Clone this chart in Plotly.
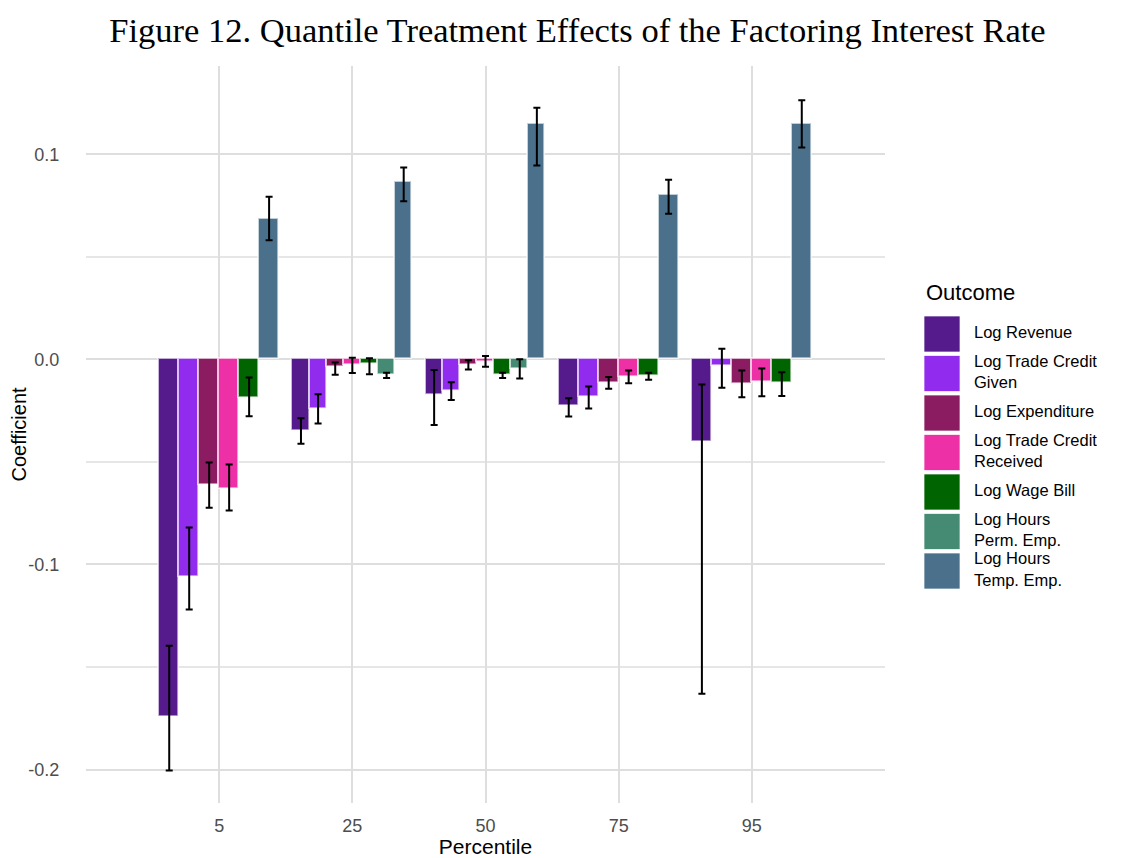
import plotly.graph_objects as go

# ---------------- data ----------------
percentiles = ["5", "25", "50", "75", "95"]

outcomes = ["Log Revenue", "Log Trade Credit Given", "Log Expenditure",
            "Log Trade Credit Received", "Log Wage Bill",
            "Log Hours Perm. Emp.", "Log Hours Temp. Emp."]
legend_labels = ["Log Revenue", "Log Trade Credit<br>Given", "Log Expenditure",
                 "Log Trade Credit<br>Received", "Log Wage Bill",
                 "Log Hours<br>Perm. Emp.", "Log Hours<br>Temp. Emp."]
colors = ["#551A8B", "#912CEE", "#8B1C62", "#EE30A7", "#006400", "#458B74", "#4A708B"]

revenue_coef = [-0.1742, -0.0349, -0.0172, -0.0229, -0.0404]
revenue_lo = [-0.2005, -0.0411, -0.0320, -0.0279, -0.1630]
revenue_hi = [-0.1396, -0.0287, -0.0052, -0.0190, -0.0123]

tc_given_coef = [-0.1060, -0.0242, -0.0156, -0.0185, -0.0031]
tc_given_lo = [-0.1220, -0.0313, -0.0198, -0.0240, -0.0138]
tc_given_hi = [-0.0820, -0.0170, -0.0112, -0.0133, 0.0052]

expenditure_coef = [-0.0614, -0.0037, -0.0026, -0.0115, -0.0120]
expenditure_lo = [-0.0724, -0.0075, -0.0050, -0.0143, -0.0185]
expenditure_hi = [-0.0503, -0.0015, -0.0005, -0.0086, -0.0054]

tc_received_coef = [-0.0630, -0.0028, -0.0013, -0.0084, -0.0110]
tc_received_lo = [-0.0737, -0.0067, -0.0036, -0.0117, -0.0180]
tc_received_hi = [-0.0513, 0.0008, 0.0016, -0.0054, -0.0045]

wage_coef = [-0.0188, -0.0021, -0.0075, -0.0080, -0.0117]
wage_lo = [-0.0278, -0.0073, -0.0091, -0.0099, -0.0179]
wage_hi = [-0.0089, 0.0005, -0.0065, -0.0065, -0.0063]

hours_perm_coef = [None, -0.0076, -0.0049, None, None]
hours_perm_lo = [None, -0.0091, -0.0094, None, None]
hours_perm_hi = [None, -0.0065, 0.0000, None, None]

hours_temp_coef = [0.0682, 0.0864, 0.1146, 0.0802, 0.1146]
hours_temp_lo = [0.0580, 0.0771, 0.0945, 0.0710, 0.1033]
hours_temp_hi = [0.0792, 0.0935, 0.1227, 0.0875, 0.1263]

y_tickvals = [-0.2, -0.1, 0.0, 0.1]
y_ticktext = ["-0.2", "-0.1", "0.0", "0.1"]
y_minor = [-0.15, -0.05, 0.05]

coefs = [revenue_coef, tc_given_coef, expenditure_coef, tc_received_coef,
         wage_coef, hours_perm_coef, hours_temp_coef]
lows = [revenue_lo, tc_given_lo, expenditure_lo, tc_received_lo,
        wage_lo, hours_perm_lo, hours_temp_lo]
highs = [revenue_hi, tc_given_hi, expenditure_hi, tc_received_hi,
         wage_hi, hours_perm_hi, hours_temp_hi]

# ---------------- layout geometry ----------------
# the page body has an 8px margin, so figure coords = page coords - 8
OFF = 8
W, H = 1128 - OFF, 858 - OFF
panel_left, panel_right, panel_top, panel_bottom = 86 - OFF, 885 - OFF, 66 - OFF, 803 - OFF
ML, MR, MT, MB = panel_left, 0, panel_top, H - panel_bottom
PW = W - ML - MR
PH = H - MT - MB
DODGE = 0.9

# dodge like ggplot: bars share the dodge width among the series present
present = [[k for k in range(len(outcomes)) if coefs[k][g] is not None]
           for g in range(len(percentiles))]

fig = go.Figure()
for k, name in enumerate(outcomes):
    offs, wids = [], []
    for g in range(len(percentiles)):
        n = len(present[g])
        slot = DODGE / n
        if k in present[g]:
            j = present[g].index(k)
            offs.append(-DODGE / 2 + j * slot)
        else:
            offs.append(0)
        wids.append(slot)
    c = coefs[k]
    plus = [None if v is None else hi - v for v, hi in zip(c, highs[k])]
    minus = [None if v is None else v - lo for v, lo in zip(c, lows[k])]
    fig.add_trace(go.Bar(
        x=percentiles, y=c, name=name, offset=offs, width=wids,
        marker=dict(color=colors[k], line=dict(color="rgba(255,255,255,0.65)", width=1.8)),
        error_y=dict(type="data", symmetric=False, array=plus, arrayminus=minus,
                     color="black", thickness=2, width=3.5),
        showlegend=False, xaxis="x", yaxis="y",
    ))

# custom legend (large keys) in its own small axes
n_out = len(outcomes)
fig.add_trace(go.Scatter(
    x=[0] * n_out, y=list(range(n_out)), mode="markers",
    marker=dict(symbol="square", size=36, color=colors,
                line=dict(color="rgba(255,255,255,0.7)", width=1)),
    showlegend=False, hoverinfo="skip", xaxis="x2", yaxis="y2", cliponaxis=False,
))
fig.add_trace(go.Scatter(
    x=[32] * n_out, y=list(range(n_out)), mode="text", text=legend_labels,
    textposition="middle right",
    textfont=dict(family="Liberation Sans, Arial, sans-serif", size=16.5, color="black"),
    showlegend=False, hoverinfo="skip", xaxis="x2", yaxis="y2", cliponaxis=False,
))

leg_x0 = 924 - OFF
leg_top, leg_bot = 314.25 - OFF, 590.75 - OFF

fig.update_layout(
    width=W, height=H,
    margin=dict(l=ML, r=MR, t=MT, b=MB, autoexpand=False),
    paper_bgcolor="white", plot_bgcolor="white",
    barmode="overlay",
    bargap=0,
    font=dict(family="Liberation Sans, Arial, sans-serif", color="black"),
    title=dict(
        text="Figure 12. Quantile Treatment Effects of the Factoring Interest Rate",
        font=dict(family="Liberation Serif, Times New Roman, serif", size=34.5, color="black"),
        x=(577.5 - OFF) / W, xanchor="center", xref="container",
        y=1 - (30 - OFF) / H, yanchor="middle", yref="container",
    ),
    xaxis=dict(
        domain=[0, (panel_right - ML) / PW],
        type="category", categoryorder="array", categoryarray=percentiles,
        range=[-1, 5],
        showgrid=True, gridcolor="#DEDEDE", gridwidth=2,
        zeroline=False, showline=False,
        ticks="outside", ticklen=6, tickcolor="rgba(0,0,0,0)",
        tickfont=dict(size=18, color="#4D4D4D"),
        title=dict(text="Percentile", font=dict(size=21, color="black"), standoff=17),
        anchor="y", automargin=False,
    ),
    yaxis=dict(
        domain=[0, 1],
        range=[-0.2163, 0.1430],
        tickmode="array", tickvals=y_tickvals, ticktext=y_ticktext,
        showgrid=True, gridcolor="#DEDEDE", gridwidth=2,
        minor=dict(tickmode="array", tickvals=y_minor, showgrid=True,
                   gridcolor="#E6E6E6", gridwidth=1.5),
        zeroline=False, showline=False,
        ticks="outside", ticklen=22, tickcolor="rgba(0,0,0,0)",
        tickfont=dict(size=18, color="#4D4D4D"),
        title=dict(text="Coefficient", font=dict(size=20, color="black"), standoff=0),
        anchor="x", automargin=False,
    ),
    xaxis2=dict(
        domain=[(leg_x0 - ML) / PW, 1],
        range=[-18, W - leg_x0 - 18],
        visible=False, fixedrange=True, anchor="y2",
    ),
    yaxis2=dict(
        domain=[(H - MB - leg_bot) / PH, (H - MB - leg_top) / PH],
        range=[n_out - 0.5, -0.5],
        visible=False, fixedrange=True, anchor="x2",
    ),
    annotations=[dict(
        text="Outcome", xref="paper", yref="paper",
        x=(924 - OFF - ML) / PW, xanchor="left",
        y=(H - MB - (292 - OFF)) / PH, yanchor="middle",
        showarrow=False, font=dict(size=22, color="black"),
    )],
)

fig.write_html("out.html")
